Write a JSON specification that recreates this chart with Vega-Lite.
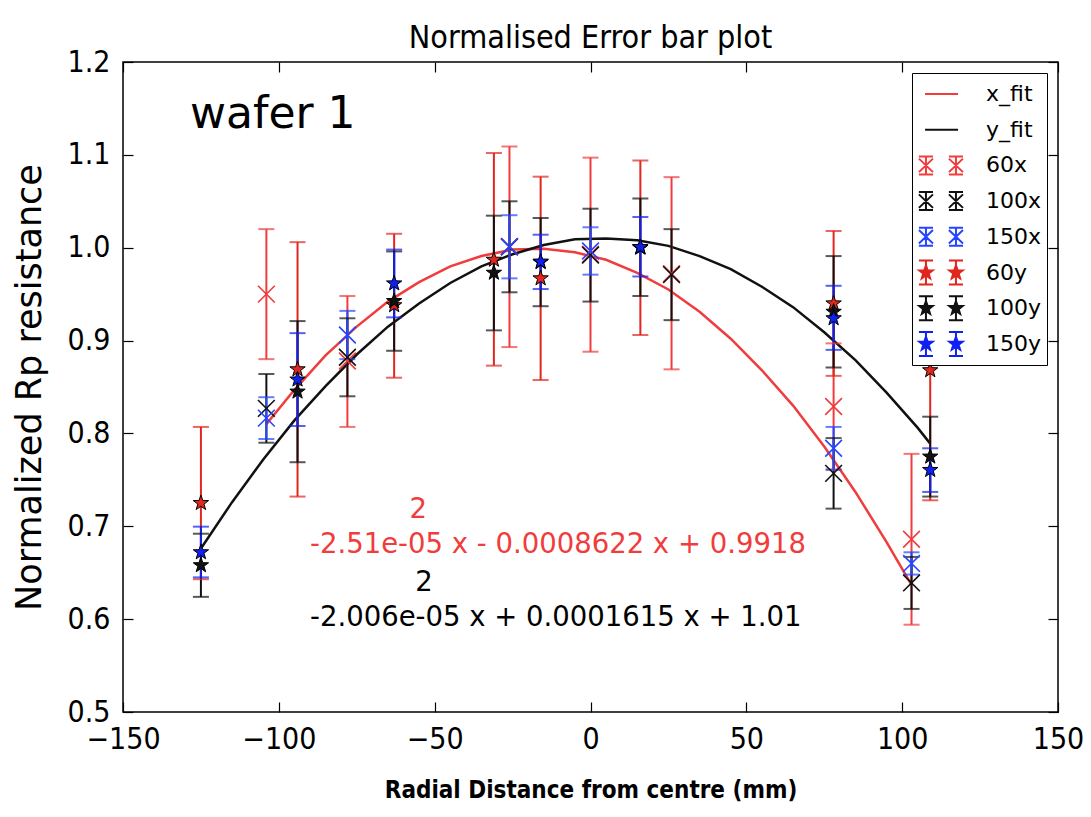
{
  "$schema": "https://vega.github.io/schema/vega-lite/v6.json",
  "width": 935,
  "height": 650,
  "autosize": {"type": "none"},
  "padding": {"left": 123, "top": 62, "right": 33, "bottom": 105},
  "background": "white",
  "title": {"text": "Normalised Error bar plot", "fontSize": 32, "font": "DejaVu Sans Condensed, DejaVu Sans", "fontWeight": "normal", "offset": 12, "dy": 20, "color": "black"},
  "config": {
    "view": {"stroke": "black", "strokeWidth": 1.5},
    "axis": {"grid": false, "domain": false, "tickColor": "black", "tickWidth": 1.2, "tickSize": -10, "labelColor": "black", "labelFont": "DejaVu Sans Condensed, DejaVu Sans", "labelFontSize": 30, "titleColor": "black", "labelFlush": false, "labelOverlap": false}
  },
  "datasets": {
    "points": [
      {"series": "60x", "dir": "x", "x": -104, "y": 0.950, "lo": 0.880, "hi": 1.020},
      {"series": "60x", "dir": "x", "x": -78, "y": 0.878, "lo": 0.807, "hi": 0.948},
      {"series": "60x", "dir": "x", "x": -26, "y": 1.001, "lo": 0.893, "hi": 1.109},
      {"series": "60x", "dir": "x", "x": 0, "y": 0.993, "lo": 0.888, "hi": 1.097},
      {"series": "60x", "dir": "x", "x": 26, "y": 0.972, "lo": 0.869, "hi": 1.076},
      {"series": "60x", "dir": "x", "x": 78, "y": 0.829, "lo": 0.761, "hi": 0.897},
      {"series": "60x", "dir": "x", "x": 103, "y": 0.686, "lo": 0.594, "hi": 0.778},
      {"series": "100x", "dir": "x", "x": -104, "y": 0.827, "lo": 0.790, "hi": 0.864},
      {"series": "100x", "dir": "x", "x": -78, "y": 0.882, "lo": 0.840, "hi": 0.924},
      {"series": "100x", "dir": "x", "x": -26, "y": 1.001, "lo": 0.952, "hi": 1.050},
      {"series": "100x", "dir": "x", "x": 0, "y": 0.992, "lo": 0.942, "hi": 1.042},
      {"series": "100x", "dir": "x", "x": 26, "y": 0.971, "lo": 0.922, "hi": 1.020},
      {"series": "100x", "dir": "x", "x": 78, "y": 0.757, "lo": 0.719, "hi": 0.795},
      {"series": "100x", "dir": "x", "x": 103, "y": 0.639, "lo": 0.611, "hi": 0.667},
      {"series": "150x", "dir": "x", "x": -104, "y": 0.8165, "lo": 0.794, "hi": 0.839},
      {"series": "150x", "dir": "x", "x": -78, "y": 0.906, "lo": 0.880, "hi": 0.932},
      {"series": "150x", "dir": "x", "x": -26, "y": 1.001, "lo": 0.967, "hi": 1.035},
      {"series": "150x", "dir": "x", "x": 0, "y": 0.9965, "lo": 0.971, "hi": 1.022},
      {"series": "150x", "dir": "x", "x": 78, "y": 0.784, "lo": 0.761, "hi": 0.807},
      {"series": "150x", "dir": "x", "x": 103, "y": 0.660, "lo": 0.648, "hi": 0.672},
      {"series": "60y", "dir": "y", "x": -125, "y": 0.725, "lo": 0.643, "hi": 0.807},
      {"series": "60y", "dir": "y", "x": -94, "y": 0.869, "lo": 0.732, "hi": 1.006},
      {"series": "60y", "dir": "y", "x": -63, "y": 0.938, "lo": 0.860, "hi": 1.015},
      {"series": "60y", "dir": "y", "x": -31, "y": 0.987, "lo": 0.873, "hi": 1.102},
      {"series": "60y", "dir": "y", "x": -16, "y": 0.967, "lo": 0.8575, "hi": 1.0765},
      {"series": "60y", "dir": "y", "x": 16, "y": 1.000, "lo": 0.906, "hi": 1.094},
      {"series": "60y", "dir": "y", "x": 78, "y": 0.940, "lo": 0.862, "hi": 1.018},
      {"series": "60y", "dir": "y", "x": 109, "y": 0.868, "lo": 0.728, "hi": 1.008},
      {"series": "100y", "dir": "y", "x": -125, "y": 0.658, "lo": 0.624, "hi": 0.692},
      {"series": "100y", "dir": "y", "x": -94, "y": 0.845, "lo": 0.769, "hi": 0.921},
      {"series": "100y", "dir": "y", "x": -63, "y": 0.9425, "lo": 0.889, "hi": 0.996},
      {"series": "100y", "dir": "y", "x": -31, "y": 0.973, "lo": 0.911, "hi": 1.0345},
      {"series": "100y", "dir": "y", "x": -16, "y": 0.9845, "lo": 0.937, "hi": 1.032},
      {"series": "100y", "dir": "y", "x": 16, "y": 1.0004, "lo": 0.948, "hi": 1.053},
      {"series": "100y", "dir": "y", "x": 78, "y": 0.931, "lo": 0.871, "hi": 0.991},
      {"series": "100y", "dir": "y", "x": 109, "y": 0.775, "lo": 0.732, "hi": 0.818},
      {"series": "150y", "dir": "y", "x": -125, "y": 0.672, "lo": 0.645, "hi": 0.6996},
      {"series": "150y", "dir": "y", "x": -94, "y": 0.858, "lo": 0.808, "hi": 0.908},
      {"series": "150y", "dir": "y", "x": -63, "y": 0.9615, "lo": 0.925, "hi": 0.998},
      {"series": "150y", "dir": "y", "x": -16, "y": 0.985, "lo": 0.9555, "hi": 1.014},
      {"series": "150y", "dir": "y", "x": 16, "y": 1.0007, "lo": 0.969, "hi": 1.033},
      {"series": "150y", "dir": "y", "x": 78, "y": 0.924, "lo": 0.890, "hi": 0.959},
      {"series": "150y", "dir": "y", "x": 109, "y": 0.7606, "lo": 0.737, "hi": 0.784}
    ],
    "fits": [
      {"fit": "x_fit", "x": -104, "y": 0.810}, {"fit": "x_fit", "x": -95, "y": 0.847}, {"fit": "x_fit", "x": -85, "y": 0.884},
      {"fit": "x_fit", "x": -75, "y": 0.915}, {"fit": "x_fit", "x": -65, "y": 0.942}, {"fit": "x_fit", "x": -55, "y": 0.963},
      {"fit": "x_fit", "x": -45, "y": 0.980}, {"fit": "x_fit", "x": -35, "y": 0.991}, {"fit": "x_fit", "x": -25, "y": 0.998},
      {"fit": "x_fit", "x": -15, "y": 0.999}, {"fit": "x_fit", "x": -5, "y": 0.995}, {"fit": "x_fit", "x": 5, "y": 0.987},
      {"fit": "x_fit", "x": 15, "y": 0.973}, {"fit": "x_fit", "x": 25, "y": 0.955}, {"fit": "x_fit", "x": 35, "y": 0.931},
      {"fit": "x_fit", "x": 45, "y": 0.902}, {"fit": "x_fit", "x": 55, "y": 0.868}, {"fit": "x_fit", "x": 65, "y": 0.830},
      {"fit": "x_fit", "x": 75, "y": 0.786}, {"fit": "x_fit", "x": 85, "y": 0.737}, {"fit": "x_fit", "x": 95, "y": 0.683},
      {"fit": "x_fit", "x": 103, "y": 0.637},
      {"fit": "y_fit", "x": -125, "y": 0.676}, {"fit": "y_fit", "x": -115, "y": 0.726}, {"fit": "y_fit", "x": -105, "y": 0.772},
      {"fit": "y_fit", "x": -95, "y": 0.814}, {"fit": "y_fit", "x": -85, "y": 0.851}, {"fit": "y_fit", "x": -75, "y": 0.885},
      {"fit": "y_fit", "x": -65, "y": 0.915}, {"fit": "y_fit", "x": -55, "y": 0.940}, {"fit": "y_fit", "x": -45, "y": 0.962},
      {"fit": "y_fit", "x": -35, "y": 0.980}, {"fit": "y_fit", "x": -25, "y": 0.993}, {"fit": "y_fit", "x": -15, "y": 1.003},
      {"fit": "y_fit", "x": -5, "y": 1.009}, {"fit": "y_fit", "x": 5, "y": 1.010}, {"fit": "y_fit", "x": 15, "y": 1.008},
      {"fit": "y_fit", "x": 25, "y": 1.002}, {"fit": "y_fit", "x": 35, "y": 0.991}, {"fit": "y_fit", "x": 45, "y": 0.977},
      {"fit": "y_fit", "x": 55, "y": 0.958}, {"fit": "y_fit", "x": 65, "y": 0.936}, {"fit": "y_fit", "x": 75, "y": 0.909},
      {"fit": "y_fit", "x": 85, "y": 0.879}, {"fit": "y_fit", "x": 95, "y": 0.844}, {"fit": "y_fit", "x": 105, "y": 0.806},
      {"fit": "y_fit", "x": 109, "y": 0.789}
    ],
    "one": [{}]
  },
  "resolve": {"axis": {"x": "independent", "y": "independent"}},
  "layer": [
    {
      "data": {"name": "fits"},
      "mark": {"type": "line", "strokeWidth": 2.5},
      "encoding": {
        "x": {"field": "x", "type": "quantitative", "scale": {"domain": [-150, 150], "nice": false, "zero": false},
          "axis": {"orient": "bottom", "values": [-150, -100, -50, 0, 50, 100, 150], "labelPadding": 22, "title": "Radial Distance from centre (mm)", "titleFont": "DejaVu Sans Condensed, DejaVu Sans", "titleFontWeight": "bold", "titleFontSize": 24, "titlePadding": 24}},
        "y": {"field": "y", "type": "quantitative", "scale": {"domain": [0.5, 1.2], "nice": false, "zero": false},
          "axis": {"orient": "left", "values": [0.5, 0.6, 0.7, 0.8, 0.9, 1.0, 1.1, 1.2], "format": ".1f", "labelPadding": 23, "title": "Normalized Rp resistance", "titleFont": "DejaVu Sans", "titleFontWeight": "normal", "titleFontSize": 35, "titlePadding": 20}},
        "color": {"field": "fit", "type": "nominal",
          "scale": {"domain": ["x_fit", "y_fit", "60x", "100x", "150x", "60y", "100y", "150y"], "range": ["#f03c3c", "#111111", "#f03c3c", "#111111", "#2446ff", "#e0261e", "#111111", "#1020f0"]},
          "legend": {"title": null, "orient": "top-right", "offset": 11, "symbolSize": 900, "symbolStrokeWidth": 2, "labelFont": "DejaVu Sans", "labelFontSize": 22, "labelColor": "black", "labelOffset": 37, "rowPadding": 3.7, "padding": 5, "strokeColor": "black", "fillColor": "white", "cornerRadius": 0, "labelLimit": 300,
            "encode": {"symbols": {"update": {
              "shape": {"signal": "(datum.value == 'x_fit' || datum.value == 'y_fit') ? 'M-0.53,0L1.67,0M0,-0.8L0,-0.8M0,0.8L0,0.8' : (indexof(['60x','100x','150x'], datum.value) >= 0 ? 'M-0.94,-0.45L0,0.45M-0.94,0.45L0,-0.45M-0.47,-0.6L-0.47,0.6M-0.94,-0.6L0,-0.6M-0.94,0.6L0,0.6M1.06,-0.45L2,0.45M1.06,0.45L2,-0.45M1.53,-0.6L1.53,0.6M1.06,-0.6L2,-0.6M1.06,0.6L2,0.6M0,-0.8L0,-0.8M0,0.8L0,0.8' : 'M-0.47,-0.8L-0.47,0.8M-0.94,-0.8L0,-0.8M-0.94,0.8L0,0.8M1.53,-0.8L1.53,0.8M1.06,-0.8L2,-0.8M1.06,0.8L2,0.8M-0.47,-0.47L-0.358,-0.154L-0.023,-0.145L-0.289,0.059L-0.194,0.38L-0.47,0.19L-0.746,0.38L-0.651,0.059L-0.917,-0.145L-0.582,-0.154ZM1.53,-0.47L1.642,-0.154L1.977,-0.145L1.711,0.059L1.806,0.38L1.53,0.19L1.254,0.38L1.349,0.059L1.083,-0.145L1.418,-0.154Z')"},
              "stroke": {"signal": "indexof(['x_fit','60x','60y'], datum.value) >= 0 ? '#f03c3c' : (indexof(['150x','150y'], datum.value) >= 0 ? '#2446ff' : '#111111')"},
              "fill": {"signal": "datum.value == '60y' ? '#e0261e' : (datum.value == '100y' ? '#111111' : (datum.value == '150y' ? '#1020f0' : 'transparent'))"},
              "size": {"value": 900},
              "strokeWidth": {"value": 2},
              "strokeDash": {"value": []},
              "opacity": {"value": 1}
            }}}}}
      }
    },
    {
      "data": {"name": "points"},
      "mark": {"type": "rule", "strokeWidth": 2},
      "encoding": {
        "x": {"field": "x", "type": "quantitative", "axis": {"orient": "top", "values": [-150, -100, -50, 0, 50, 100, 150], "labels": false, "title": null}},
        "y": {"field": "lo", "type": "quantitative", "axis": {"orient": "right", "values": [0.5, 0.6, 0.7, 0.8, 0.9, 1.0, 1.1, 1.2], "labels": false, "title": null}},
        "y2": {"field": "hi"},
        "color": {"field": "series", "type": "nominal"}
      }
    },
    {
      "data": {"name": "points"},
      "mark": {"type": "tick", "orient": "horizontal", "size": 16, "thickness": 2},
      "encoding": {
        "x": {"field": "x", "type": "quantitative", "axis": null},
        "y": {"field": "lo", "type": "quantitative", "axis": null},
        "color": {"field": "series", "type": "nominal"}
      }
    },
    {
      "data": {"name": "points"},
      "mark": {"type": "tick", "orient": "horizontal", "size": 16, "thickness": 2},
      "encoding": {
        "x": {"field": "x", "type": "quantitative", "axis": null},
        "y": {"field": "hi", "type": "quantitative", "axis": null},
        "color": {"field": "series", "type": "nominal"}
      }
    },
    {
      "data": {"name": "points"},
      "transform": [{"filter": "datum.dir == 'x'"}],
      "mark": {"type": "point", "shape": "M-1,-1L1,1M-1,1L1,-1", "size": 280, "strokeWidth": 1.6, "filled": false, "opacity": 1},
      "encoding": {
        "x": {"field": "x", "type": "quantitative", "axis": null},
        "y": {"field": "y", "type": "quantitative", "axis": null},
        "color": {"field": "series", "type": "nominal"}
      }
    },
    {
      "data": {"name": "points"},
      "transform": [{"filter": "datum.dir == 'y'"}],
      "mark": {"type": "point", "shape": "M0,-1L0.235,-0.324L0.951,-0.309L0.38,0.124L0.588,0.809L0,0.4L-0.588,0.809L-0.38,0.124L-0.951,-0.309L-0.235,-0.324Z", "size": 260, "filled": true, "stroke": "black", "strokeWidth": 1, "opacity": 1},
      "encoding": {
        "x": {"field": "x", "type": "quantitative", "axis": null},
        "y": {"field": "y", "type": "quantitative", "axis": null},
        "color": {"field": "series", "type": "nominal"}
      }
    },
    {
      "data": {"name": "one"},
      "mark": {"type": "text", "text": "wafer 1", "font": "DejaVu Sans", "fontSize": 44, "align": "left", "baseline": "alphabetic", "color": "black"},
      "encoding": {"x": {"datum": -128.5, "type": "quantitative", "axis": null}, "y": {"datum": 1.129, "type": "quantitative", "axis": null}}
    },
    {
      "data": {"name": "one"},
      "mark": {"type": "text", "text": "2", "font": "DejaVu Sans", "fontSize": 27.5, "align": "center", "baseline": "middle", "color": "#f03c3c"},
      "encoding": {"x": {"datum": -55.3, "type": "quantitative", "axis": null}, "y": {"datum": 0.7175, "type": "quantitative", "axis": null}}
    },
    {
      "data": {"name": "one"},
      "mark": {"type": "text", "text": "-2.51e-05 x - 0.0008622 x + 0.9918", "font": "DejaVu Sans", "fontSize": 27.5, "align": "left", "baseline": "middle", "color": "#f03c3c"},
      "encoding": {"x": {"datum": -90, "type": "quantitative", "axis": null}, "y": {"datum": 0.68, "type": "quantitative", "axis": null}}
    },
    {
      "data": {"name": "one"},
      "mark": {"type": "text", "text": "2", "font": "DejaVu Sans", "fontSize": 27.5, "align": "center", "baseline": "middle", "color": "black"},
      "encoding": {"x": {"datum": -53.4, "type": "quantitative", "axis": null}, "y": {"datum": 0.639, "type": "quantitative", "axis": null}}
    },
    {
      "data": {"name": "one"},
      "mark": {"type": "text", "text": "-2.006e-05 x + 0.0001615 x + 1.01", "font": "DejaVu Sans", "fontSize": 27.5, "align": "left", "baseline": "middle", "color": "black"},
      "encoding": {"x": {"datum": -90, "type": "quantitative", "axis": null}, "y": {"datum": 0.601, "type": "quantitative", "axis": null}}
    }
  ]
}
